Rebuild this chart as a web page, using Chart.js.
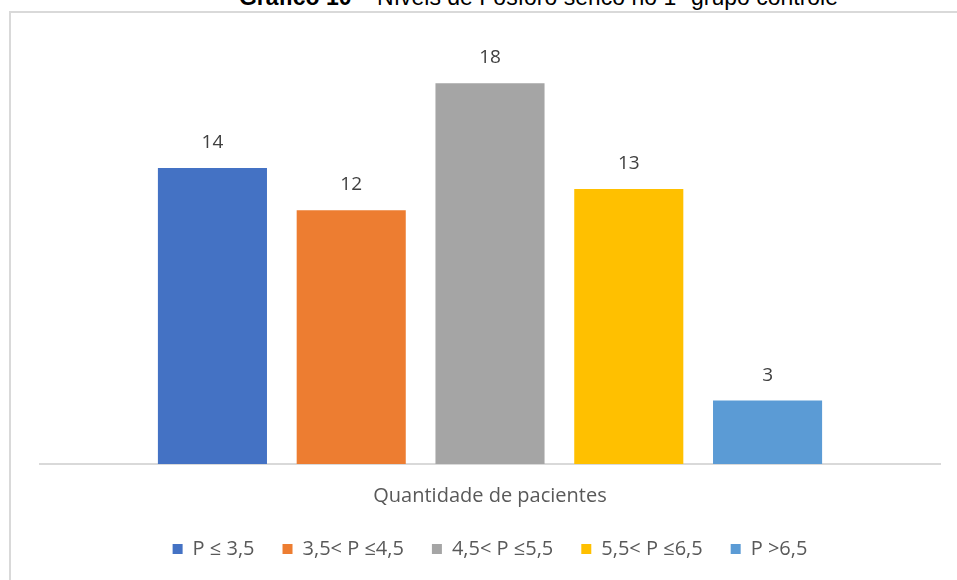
<!DOCTYPE html>
<html>
    <head>
        <title>Fósforo sérico</title>
        <meta charset="UTF-8">
        <script src="https://cdn.jsdelivr.net/npm/chart.js@4.4.0/dist/chart.umd.min.js"></script>
        <style>
            html, body { margin: 0; padding: 0; background: #ffffff; overflow: hidden; }
            body { width: 957px; height: 580px; position: relative; }
            .frame {
                position: absolute; left: 9px; top: 11px;
                width: 980px; height: 600px;
                border: 2px solid #d9d9d9;
                box-sizing: border-box;
            }
            .chartTitle {
                position: absolute; left: 0; width: 1077px; top: -16px;
                text-align: center;
                font-family: 'Liberation Sans', Arial, sans-serif;
                font-size: 23px; color: #000000;
                white-space: nowrap;
            }
            .chartBox { position: absolute; left: 0; top: 0; width: 957px; height: 580px; }
        </style>
    </head>
    <body>
        <div class='frame'></div>
        <div class='chartTitle'><b>Gráfico 10</b> – Níveis de Fósforo sérico no 1º grupo controle</div>
        <div class='chartBox'><canvas id='myChart'></canvas></div>
        <script>
            const categories = ['Quantidade de pacientes'];
            const faixas = ['P ≤ 3,5', '3,5< P ≤4,5', '4,5< P ≤5,5', '5,5< P ≤6,5', 'P >6,5'];
            const pacientes = [14, 12, 18, 13, 3];
            const cores = ['#4472c4', '#ed7d31', '#a5a5a5', '#ffc000', '#5b9bd5'];

            const fonte = "'Open Sans', sans-serif";

            // writes each bar's value above it
            const valueLabels = {
                id: 'valueLabels',
                afterDatasetsDraw(chart) {
                    let ctx = chart.ctx;
                    ctx.save();
                    ctx.font = '19px ' + fonte;
                    ctx.fillStyle = '#404040';
                    ctx.textAlign = 'center';
                    ctx.textBaseline = 'alphabetic';
                    chart.data.datasets.forEach((ds, i) => {
                        let bar = chart.getDatasetMeta(i).data[0];
                        ctx.fillText(ds.data[0], bar.x, bar.y - 20);
                    });
                    ctx.restore();
                }
            };

            let datasets = [];
            faixas.forEach((f, i) => {
                datasets.push({
                    label: f,
                    data: [pacientes[i]],
                    backgroundColor: cores[i],
                    borderWidth: 0,
                    categoryPercentage: 0.771,
                    barPercentage: 0.786
                });
            });

            let ctx = document.getElementById('myChart').getContext('2d');
            let chart = new Chart(ctx, {
                type: 'bar',
                data: {
                    labels: categories,
                    datasets: datasets
                },
                options: {
                    responsive: true,
                    maintainAspectRatio: false,
                    animation: false,
                    layout: {
                        padding: { left: 40, right: 17, top: 41, bottom: 11 }
                    },
                    plugins: {
                        legend: {
                            position: 'bottom',
                            labels: {
                                boxWidth: 10,
                                boxHeight: 10,
                                padding: 28,
                                color: '#595959',
                                font: { family: fonte, size: 20 }
                            }
                        },
                        tooltip: { enabled: false }
                    },
                    scales: {
                        x: {
                            grid: { display: false },
                            border: { color: '#d9d9d9', width: 2 },
                            ticks: {
                                color: '#595959',
                                padding: 12,
                                font: { family: fonte, size: 20 }
                            },
                            afterFit(scale) {
                                scale.height = 47;
                            }
                        },
                        y: {
                            display: false,
                            min: 0,
                            max: 20
                        }
                    }
                },
                plugins: [valueLabels]
            });
        </script>
    </body>
</html>
